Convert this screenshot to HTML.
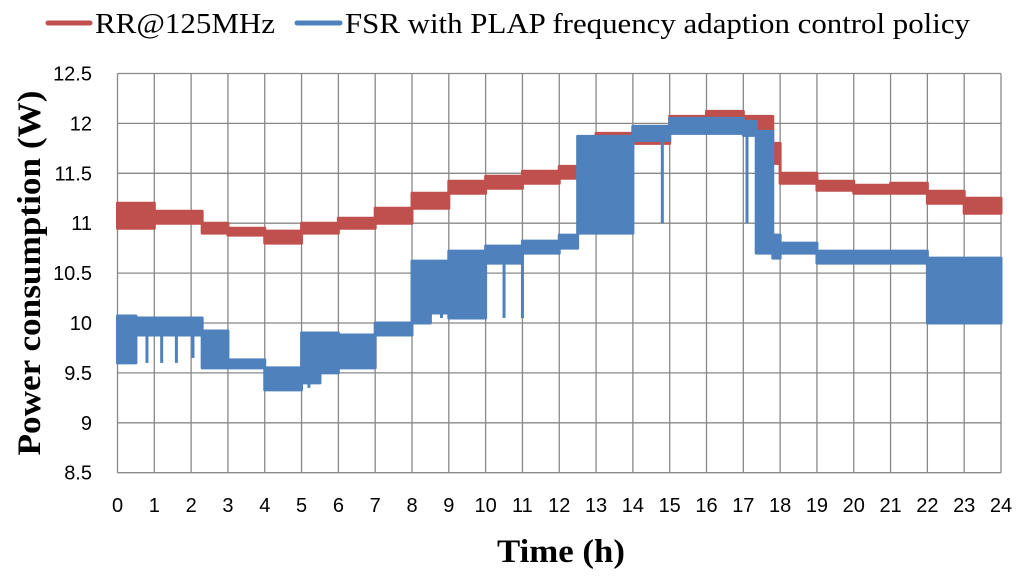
<!DOCTYPE html>
<html><head><meta charset="utf-8"><style>
body{margin:0;background:#fff;width:1024px;height:582px;overflow:hidden}
svg{display:block}
</style></head><body>
<svg id="chart" width="1024" height="582" xmlns="http://www.w3.org/2000/svg">
<g>
<line x1="48" y1="23" x2="90" y2="23" stroke="#C0504D" stroke-width="5" stroke-linecap="round"/>
<text x="95" y="33" font-family="Liberation Serif, serif" font-size="29" textLength="180" lengthAdjust="spacingAndGlyphs">RR@125MHz</text>
<line x1="297" y1="23" x2="340" y2="23" stroke="#4F81BD" stroke-width="5" stroke-linecap="round"/>
<text x="345" y="33" font-family="Liberation Serif, serif" font-size="29" textLength="625" lengthAdjust="spacingAndGlyphs">FSR with PLAP frequency adaption control policy</text>
</g>
<g id="grid"></g><g id="series"></g><g id="axes"></g>
<text transform="translate(40,273) rotate(-90)" text-anchor="middle" font-family="Liberation Serif, serif" font-weight="bold" font-size="33" textLength="365" lengthAdjust="spacingAndGlyphs">Power consumption (W)</text>
<text x="561" y="562" text-anchor="middle" font-family="Liberation Serif, serif" font-weight="bold" font-size="33" textLength="128" lengthAdjust="spacingAndGlyphs">Time (h)</text>
</svg>
<script>
const yTicks=[8.5,9,9.5,10,10.5,11,11.5,12,12.5];
const xTicks=[0,1,2,3,4,5,6,7,8,9,10,11,12,13,14,15,16,17,18,19,20,21,22,23,24];
// red series: segment start times, low/high band values
const redT=[0,1,2.3,3,4,5,6,7,8,9,10,11,12,12.6,13,14,15,16,17,17.8,18,19,20,21,22,23,24];
const redLo=[10.95,11.0,10.9,10.88,10.8,10.9,10.95,11.0,11.15,11.3,11.35,11.4,11.45,11.6,11.75,11.8,11.95,12.0,11.9,11.6,11.4,11.33,11.3,11.3,11.2,11.1];
const redHi=[11.2,11.12,11.0,10.95,10.92,11.0,11.05,11.15,11.3,11.42,11.47,11.52,11.57,11.75,11.9,11.97,12.07,12.12,12.07,11.8,11.5,11.42,11.38,11.4,11.32,11.25];
// blue series
const blueT=[0,0.5,2.3,3,4,5,5.5,6,7,8,8.5,9,10,11,12,12.5,14,15,17,17.35,17.8,18,19,22,24];
const blueLo=[9.6,9.88,9.55,9.55,9.33,9.4,9.5,9.55,9.88,10.0,10.1,10.05,10.6,10.7,10.75,10.9,11.83,11.9,11.88,10.7,10.65,10.7,10.6,10.0];
const blueHi=[10.07,10.05,9.92,9.63,9.55,9.9,9.9,9.88,10.0,10.62,10.62,10.72,10.77,10.82,10.88,11.87,11.97,12.05,12.02,11.92,10.88,10.8,10.72,10.65];
const blueSpikeT=[0.8,1.2,1.6,2.05,5.2,8.8,9.5,9.8,10.5,11.0,14.8,17.1];
const blueSpikeV=[9.6,9.6,9.6,9.65,9.35,10.05,10.05,10.05,10.05,10.05,11.0,11.0];

const L=117.5,R=1001,T=73.5,B=472.7;
const xs=t=>L+(R-L)*t/24;
const ys=v=>B-(B-T)*(v-8.5)/4;
const NS="http://www.w3.org/2000/svg";
function mk(tag,parent,attrs){const e=document.createElementNS(NS,tag);for(const k in attrs)e.setAttribute(k,attrs[k]);parent.appendChild(e);return e;}
const grid=document.getElementById('grid'),series=document.getElementById('series'),axes=document.getElementById('axes');
yTicks.forEach(v=>{
 const l=mk('line',grid,{x1:L,x2:R,y1:ys(v),y2:ys(v),stroke:'#888','stroke-width':1.3});
 
 
 const t=mk('text',axes,{x:92,y:ys(v)+7,'text-anchor':'end','font-family':'Liberation Sans, sans-serif','font-size':20});
 t.textContent=v;
 
 
});
xTicks.forEach(v=>{
 const l=mk('line',grid,{x1:xs(v),x2:xs(v),y1:T,y2:B,stroke:'#888','stroke-width':1.3});
 
 
 const t=mk('text',axes,{x:xs(v),y:512,'text-anchor':'middle','font-family':'Liberation Sans, sans-serif','font-size':20});
 t.textContent=v;
 
 
});
function band(tArr,lo,hi,color,name){
 let top=[],bot=[];
 for(let i=0;i<lo.length;i++){
  top.push(xs(tArr[i])+','+ys(hi[i]),xs(tArr[i+1])+','+ys(hi[i]));
  bot.push(xs(tArr[i])+','+ys(lo[i]),xs(tArr[i+1])+','+ys(lo[i]));
 }
 const p=mk('polygon',series,{points:top.concat(bot.reverse()).join(' '),fill:color,stroke:color,'stroke-width':3,'stroke-linejoin':'round'});
 
 
}
band(redT,redLo,redHi,'#C0504D','rr-series');
band(blueT,blueLo,blueHi,'#4F81BD','fsr-series');
blueSpikeT.forEach((t,i)=>{
 let idx=0;while(idx<blueT.length-2&&blueT[idx+1]<=t)idx++;
 const l=mk('line',series,{x1:xs(t),x2:xs(t),y1:ys(blueLo[idx]),y2:ys(blueSpikeV[i]),stroke:'#4F81BD','stroke-width':3});
 
 
});
</script>
</body></html>
